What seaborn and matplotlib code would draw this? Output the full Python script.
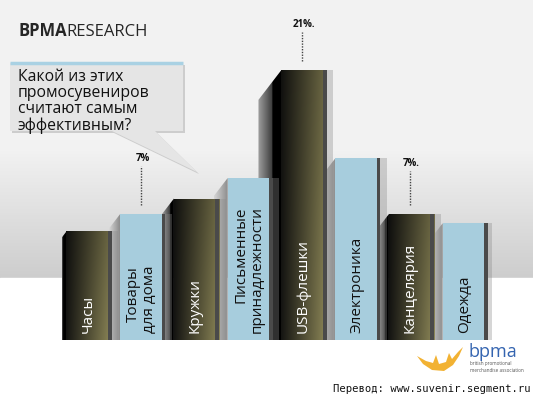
import numpy as np
import pandas as pd
import matplotlib
matplotlib.use('Agg')
import matplotlib.pyplot as plt
import seaborn as sns
from matplotlib.colors import LinearSegmentedColormap, to_rgb
from matplotlib.patches import Polygon, Rectangle

# ------------------------------------------------------------
# data
# ------------------------------------------------------------
items = ['Часы', 'Товары\nдля дома', 'Кружки', 'Письменные\nпринадлежности',
         'USB-флешки', 'Электроника', 'Канцелярия', 'Одежда']
shares = [5.3, 7, 8.5, 10.5, 21, 12.4, 7, 6.1]
dark = [True, False, True, False, True, False, True, False]
pct_labels = {1: '7%', 4: '21%.', 6: '7%.'}
pct_offset = {1: 5.4, 4: 4.4, 6: 4.9}

BASE = 5.25          # bars start below zero (picture baseline)
PX_Y = 10.29         # pixels per unit on y
PX_X = 53.75         # pixels per category on x

df = pd.DataFrame({'item': items, 'share': shares})
df['height'] = df['share'] + BASE

sns.set_theme(style='white')
plt.rcParams['font.family'] = ['Open Sans', 'DejaVu Sans']

W, H = 533, 399
fig = plt.figure(figsize=(W / 100, H / 100), dpi=100)
fig.patch.set_facecolor('#f2f2f2')

# background (pixel coordinates)
bg = fig.add_axes([0, 0, 1, 1], zorder=0)
bg_cmap = LinearSegmentedColormap.from_list('bg', ['#f2f2f2', '#cdcdcd'])
bg.imshow(np.linspace(0, 1, 128).reshape(-1, 1), cmap=bg_cmap, aspect='auto',
          extent=[0, W, 278, 150], origin='upper', zorder=0)
bg.add_patch(Rectangle((0, 278), W, H - 278, color='white', zorder=0.5))
bg.set_xlim(0, W)
bg.set_ylim(H, 0)
bg.axis('off')

# main axes
ax = fig.add_axes([(89 - 0.5 * PX_X) / W, (H - 340) / H, 8 * PX_X / W, 320 / H], zorder=1)
ax.set_facecolor('none')

pal = {it: ('#232219' if d else '#a7cddd') for it, d in zip(items, dark)}
sns.barplot(data=df, x='item', y='height', hue='item', palette=pal, order=items,
            hue_order=items, width=0.84, bottom=-BASE, legend=False,
            linewidth=0, saturation=1, ax=ax, zorder=3)


def grad_image(ax, clip, extent, rgb, zorder):
    im = ax.imshow(rgb, extent=extent, aspect='auto', origin='lower',
                   interpolation='bilinear', zorder=zorder)
    im.set_clip_path(clip)
    return im


def hgrad(c0, c1, n=64):
    a, b = np.array(to_rgb(c0)), np.array(to_rgb(c1))
    t = np.linspace(0, 1, n)[None, :, None]
    return a + (b - a) * t


bars = sorted(ax.patches, key=lambda p: p.get_x())
for i, p in enumerate(bars):
    x0, w = p.get_x(), p.get_width()
    top = shares[i]
    xc = x0 + w / 2
    h_px = (top + BASE) * PX_Y

    # side face
    d = 0.085 * h_px / PX_X
    dy = 1.3 * 0.085 * h_px / PX_Y
    side = Polygon([(x0, -BASE), (x0, top), (x0 - d, top - dy), (x0 - d, -BASE)],
                   closed=True, fc='none', ec='none', transform=ax.transData)
    ax.add_patch(side)
    if dark[i]:
        rgb = hgrad('#a0a0a0', '#000000')
        rgb[:, -24:, :] = 0
    else:
        rgb = hgrad('#d6d6d6', '#8c8c8c')
    grad_image(ax, side, [x0 - d, x0, -BASE, top], rgb, 1.5)

    # shadow on the right
    ax.add_patch(Rectangle((x0 + w, -BASE), 0.12, top + BASE, fc='#8a8a8a',
                           ec='none', alpha=0.35, zorder=2))

    # dark bar gradient
    if dark[i]:
        nx, ny = 64, 64
        base = hgrad('#121210', '#7a754c', nx)[0]
        yy = np.linspace(0, 1, ny)[:, None, None]
        rgb = np.clip(base[None, :, :] * (1.15 - 0.25 * yy), 0, 1)
        grad_image(ax, p, [x0, x0 + w, -BASE, top], rgb, 3.5)

    # right edge strip
    ax.add_patch(Rectangle((x0 + w - 0.07, -BASE), 0.07, top + BASE,
                           fc='#4a4a4a', ec='none', zorder=4))

    # category label
    ax.text(xc - 0.02, -BASE + 0.65, items[i], rotation=90, ha='center', va='bottom',
            multialignment='right', fontsize=11, linespacing=1.1,
            color='white' if dark[i] else '#111111', zorder=5)

    # percentage callouts
    if i in pct_labels:
        off = pct_offset[i]
        ax.plot([xc - 0.03, xc - 0.03], [top + 0.9, top + off - 0.75], ls=(0, (1, 1)),
                color='#444444', lw=1, zorder=5)
        ax.text(xc, top + off, pct_labels[i], ha='center', va='center',
                fontsize=7, fontweight='bold', color='#111111', zorder=5)

ax.set_xlim(-0.5, 7.5)
ax.set_ylim(-BASE, 25.86)
ax.axis('off')

# title
t1 = bg.text(18, 36, 'BPMA', fontsize=12, fontweight='bold', color='#262626',
             va='baseline', ha='left')
bg.annotate('RESEARCH', xy=(1, 0), xycoords=t1, fontsize=12, color='#262626',
            va='bottom', ha='left')

# speech bubble
bubble = [(10, 63), (183, 63), (183, 131), (155, 131), (197, 172), (112, 131), (10, 131)]
bg.add_patch(Polygon([(x + 2, y + 2) for x, y in bubble], closed=True,
                     fc='#b5b5b5', ec='none', alpha=0.6, zorder=2))
bg.add_patch(Polygon(bubble, closed=True, fc='#e5e5e5', ec='none', zorder=3))
bg.plot([10, 183], [63, 63], color='#a9d1e3', lw=2.5, zorder=4, solid_capstyle='butt')
bg.text(18, 69, 'Какой из этих\nпромосувениров\nсчитают самым\nэффективным?',
        fontsize=11.3, color='#111111', ha='left', va='top', linespacing=1.0, zorder=5)

# logo
crown = [(417, 356), (423, 364), (432, 370), (444, 371), (453, 365), (459, 356),
         (463, 347), (458, 352), (452, 359), (449, 353), (446, 362), (439, 364),
         (436, 355), (433, 363), (426, 361)]
bg.add_patch(Polygon(crown, closed=True, fc='#f2b233', ec='none', zorder=3))
bg.text(469, 357, 'bpma', fontsize=13, color='#3464b0', ha='left', va='baseline', zorder=3)
bg.text(470, 367, 'british promotional\nmerchandise association', fontsize=3.3,
        color='#555555', ha='left', va='center', linespacing=1.3, zorder=3)

# translation credit
bg.text(531, 389, 'Перевод: www.suvenir.segment.ru', family='DejaVu Sans Mono',
        fontsize=7.6, color='#111111', ha='right', va='center', zorder=3)

fig.savefig('out.png', dpi=100, facecolor=fig.get_facecolor())
